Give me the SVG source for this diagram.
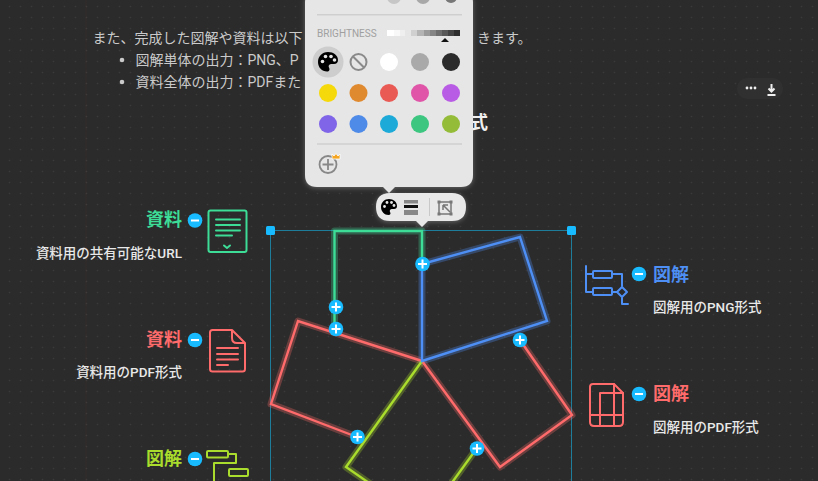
<svg xmlns="http://www.w3.org/2000/svg" width="818" height="481" viewBox="0 0 818 481">
<style>
text{font-family:Roboto,"Noto Sans CJK JP","Noto Sans",sans-serif}
.body{font-size:14px;fill:#cacaca}
.title{font-size:18px;font-weight:700}
.desc{font-size:13.500px;font-weight:500;fill:#e8e8e8}
.ic{fill:none;stroke-width:2;stroke-linejoin:round;stroke-linecap:round}
.glow{fill:none;stroke-width:7;opacity:.3;stroke-linejoin:round}
.ln{fill:none;stroke-width:2.400;stroke-linejoin:miter}
.plusb{fill:#18bbff}
.pl{stroke:#fff;stroke-width:2;fill:none}
.div{stroke:#cfcfcf;stroke-width:1.500;fill:none}
</style>
<defs>
<pattern id="dots" width="11" height="11" patternUnits="userSpaceOnUse" x="4" y="1"><circle cx="5.500" cy="5.500" r="0.800" fill="#3a3a3a"/></pattern>
<filter id="sh" x="-20%" y="-20%" width="140%" height="140%"><feDropShadow dx="0" dy="1" stdDeviation="2.500" flood-color="#fff" flood-opacity=".28"/></filter>
<g id="add"><circle r="7.300" class="plusb"/><path d="M-4.500 0H4.500M0-4.500V4.500" class="pl"/></g>
<g id="minus"><circle r="7.300" class="plusb"/><path d="M-4 0H4" class="pl"/></g>
</defs>
<rect width="818" height="481" fill="#2b2b2b"/>
<rect width="818" height="481" fill="url(#dots)"/>
<path d="M86 0V481" stroke="#ff4040" stroke-opacity=".06" fill="none"/>

<g id="document-text">
<text x="92.500" y="43" class="body">また、完成した図解や資料は以下</text>
<text x="477" y="43" class="body">きます。</text>
<circle cx="122" cy="60" r="2.300" fill="#cacaca"/>
<text x="135.500" y="65" class="body">図解単体の出力：PNG、P</text>
<circle cx="122" cy="82" r="2.300" fill="#cacaca"/>
<text x="135.500" y="87" class="body">資料全体の出力：PDFまた</text>
<text x="470" y="129" class="title" fill="#f0f0f0">式</text>
</g>

<g id="block-actions">
<rect x="737" y="78" width="46" height="21" rx="10" fill="#303030"/>
<circle cx="747" cy="88" r="1.400" fill="#eee"/><circle cx="751" cy="88" r="1.400" fill="#eee"/><circle cx="755" cy="88" r="1.400" fill="#eee"/>
<path d="M771.500 84V90M768.500 88.500L771.500 91.500L774.500 88.500M767.500 95H775.500" fill="none" stroke="#eee" stroke-width="2"/>
</g>

<rect id="selection" x="270.500" y="230.500" width="301" height="270" fill="none" stroke="#1f7d9c" stroke-width="1"/>

<g id="connectors">
<path class="glow" stroke="#3ddc97" d="M422 264V231H334.500V329"/>
<path class="glow" stroke="#ff6b6b" d="M357 437L271 404L298 321L422 361"/>
<path class="glow" stroke="#ff6b6b" d="M520 340L572 415L500 467L422 361"/>
<path class="glow" stroke="#a9dc2c" d="M422 361L346 467L372 485M477 448L443 495"/>
<path class="glow" stroke="#4e8ff5" d="M422 361V264L520 237L547 321Z"/>
<path class="ln" stroke="#3ddc97" d="M422 264V231H334.500V329"/>
<path class="ln" stroke="#ff6b6b" d="M357 437L271 404L298 321L422 361"/>
<path class="ln" stroke="#ff6b6b" d="M520 340L572 415L500 467L422 361"/>
<path class="ln" stroke="#a9dc2c" d="M422 361L346 467L372 485M477 448L443 495"/>
<path class="ln" stroke="#4e8ff5" d="M422 361V264L520 237L547 321Z"/>
</g>

<g id="handles">
<rect x="266" y="226" width="9" height="9" rx="1.500" fill="#18bbff"/>
<rect x="567" y="226" width="9" height="9" rx="1.500" fill="#18bbff"/>
<use href="#add" x="422.500" y="264"/>
<use href="#add" x="336" y="307"/>
<use href="#add" x="336" y="329"/>
<use href="#add" x="357.500" y="437"/>
<use href="#add" x="477" y="448.500"/>
<use href="#add" x="520" y="340"/>
</g>

<g id="node-url">
<text x="182" y="226" text-anchor="end" class="title" fill="#3ddc97">資料</text>
<use href="#minus" x="195" y="220.500"/>
<rect x="208.500" y="210.500" width="38" height="41.500" rx="2" class="ic" stroke="#3ddc97"/>
<path d="M216 219.500H240M216 225H240M216 230.500H240M216 235.500H232M224 245.500L227 248L230 245.500" class="ic" stroke="#3ddc97"/>
<text x="182" y="258" text-anchor="end" class="desc">資料用の共有可能なURL</text>
</g>

<g id="node-doc-pdf">
<text x="182" y="346" text-anchor="end" class="title" fill="#ff6b6b">資料</text>
<use href="#minus" x="195" y="340"/>
<path d="M212.500 330H232L245 343V369Q245 371.500 242.500 371.500H212.500Q210 371.500 210 369V332.500Q210 330 212.500 330ZM232 330V338Q232 343 237 343H245" class="ic" stroke="#ff6b6b"/>
<path d="M217 348H238M217 354H238M217 359.500H238M217 365H228" class="ic" stroke="#ff6b6b"/>
<text x="182" y="377" text-anchor="end" class="desc">資料用のPDF形式</text>
</g>

<g id="node-diagram-flow">
<text x="182" y="465" text-anchor="end" class="title" fill="#a9dc2c">図解</text>
<use href="#minus" x="195" y="459"/>
<rect x="207" y="451" width="21" height="6.500" rx="1" class="ic" stroke="#a9dc2c"/>
<path d="M228 454H236V463H214V481" class="ic" stroke="#a9dc2c"/>
<rect x="229" y="469" width="19" height="7" rx="1" class="ic" stroke="#a9dc2c"/>
</g>

<g id="node-png">
<path d="M586 266V292H593M586 274H593M612 274H622V286M612 292H617M622 298V304H628" class="ic" stroke="#4e8ff5"/>
<rect x="593" y="271" width="19" height="7" rx="1" class="ic" stroke="#4e8ff5"/>
<rect x="593" y="288" width="19" height="7" rx="1" class="ic" stroke="#4e8ff5"/>
<path d="M622 287L627 292L622 297L617 292Z" class="ic" stroke="#4e8ff5"/>
<use href="#minus" x="639" y="274"/>
<text x="653" y="281" class="title" fill="#4e8ff5">図解</text>
<text x="653" y="312" class="desc">図解用のPNG形式</text>
</g>

<g id="node-diagram-pdf">
<path d="M593 384H614L623 393V422Q623 426 619 426H594Q590 426 590 422V387Q590 384 593 384Z" class="ic" stroke="#ff6b6b"/>
<path d="M600 426V393H623M614 384V426M590 415H623" class="ic" stroke="#ff6b6b"/>
<use href="#minus" x="639" y="394"/>
<text x="653" y="400" class="title" fill="#ff6b6b">図解</text>
<text x="653" y="432" class="desc">図解用のPDF形式</text>
</g>

<g id="color-popup">
<path d="M317-10H461Q473-10 473 2V175Q473 187 461 187H395L389 193L383 187H317Q305 187 305 175V2Q305-10 317-10Z" fill="#e6e6e6" filter="url(#sh)"/>
<circle cx="394" cy="-3" r="7" fill="#c6c6c6"/><circle cx="423" cy="-3" r="7" fill="#a8a8a8"/><circle cx="451" cy="-3" r="6" fill="#777"/>
<path class="div" d="M317 14.700H462M317 144H462"/>
<text x="317" y="37" font-size="10" fill="#a0a0a0">BRIGHTNESS</text>
<g id="brightness">
<rect x="387" y="30" width="7" height="6" fill="#fff"/><rect x="394" y="30" width="6" height="6" fill="#f8f8f8"/><rect x="400" y="30" width="5" height="6" fill="#efefef"/>
<rect x="411" y="30" width="6" height="6" fill="#d0d0d0"/><rect x="417" y="30" width="7" height="6" fill="#b4b4b4"/><rect x="424" y="30" width="6" height="6" fill="#9a9a9a"/>
<rect x="430" y="30" width="6" height="6" fill="#858585"/><rect x="436" y="30" width="6" height="6" fill="#6e6e6e"/><rect x="442" y="30" width="6" height="6" fill="#595959"/>
<rect x="448" y="30" width="6" height="6" fill="#444"/><rect x="454" y="30" width="6" height="6" fill="#2e2e2e"/>
<path d="M445 38L449 42H441Z" fill="#111"/>
</g>
<circle cx="328" cy="62" r="15.500" fill="#cdcdcd"/>
<path d="M328 52C322 52 318 56.500 318 62C318 67.500 322 71.500 327 71.500C329.500 71.500 330 69.500 329 67.500C328 65.500 329.500 64 332 64H334C336.500 64 338 62.500 338 60C338 55.500 333.500 52 328 52Z" fill="#000"/>
<circle cx="322.500" cy="61.500" r="1.800" fill="#e6e6e6"/><circle cx="325.500" cy="56.500" r="1.800" fill="#e6e6e6"/><circle cx="331" cy="56.500" r="1.800" fill="#e6e6e6"/><circle cx="334.500" cy="60" r="1.800" fill="#e6e6e6"/>
<circle cx="358.500" cy="62" r="8" fill="none" stroke="#8a8a8a" stroke-width="2"/><path d="M353 56.500L364 67.500" stroke="#8a8a8a" stroke-width="2" fill="none"/>
<circle cx="389" cy="62" r="9" fill="#fff"/><circle cx="420" cy="62" r="9" fill="#a9a9a9"/><circle cx="451" cy="62" r="9" fill="#2b2b2b"/>
<circle cx="328" cy="93" r="9" fill="#f5d90a"/><circle cx="358.500" cy="93" r="9" fill="#e08a30"/><circle cx="389" cy="93" r="9" fill="#e95a55"/><circle cx="420" cy="93" r="9" fill="#e055a8"/><circle cx="451" cy="93" r="9" fill="#b95ce5"/>
<circle cx="328" cy="124" r="9" fill="#8065e8"/><circle cx="358.500" cy="124" r="9" fill="#4e8ae8"/><circle cx="389" cy="124" r="9" fill="#1daad8"/><circle cx="420" cy="124" r="9" fill="#3cc680"/><circle cx="451" cy="124" r="9" fill="#94bc38"/>
<circle cx="328" cy="164.500" r="8.500" fill="none" stroke="#888" stroke-width="1.800"/><path d="M322.500 164.500H333.500M328 159V170" stroke="#888" stroke-width="1.800" fill="none"/>
<path d="M332 159V154L334 156L336 153.500L338 156L340 154V159Z" fill="#f5a623" stroke="#fff" stroke-width=".8"/>
</g>

<g id="toolbar">
<path d="M390 193H452Q466 193 466 207Q466 221 452 221H428L422 227L416 221H390Q376 221 376 207Q376 193 390 193Z" fill="#e8e8e8" filter="url(#sh)"/>
<path d="M389 199C384.500 199 381 202.500 381 207C381 211.500 384.500 215 388.500 215C390.500 215 391 213.500 390 212C389.200 210.500 390.300 209 392 209H394C396 209 397 208 397 206C397 202 393.500 199 389 199Z" fill="#000"/>
<circle cx="384.500" cy="206.500" r="1.400" fill="#e8e8e8"/><circle cx="387" cy="202.500" r="1.400" fill="#e8e8e8"/><circle cx="391.500" cy="202.500" r="1.400" fill="#e8e8e8"/><circle cx="394" cy="205.500" r="1.400" fill="#e8e8e8"/>
<rect x="404" y="200" width="14" height="3.500" fill="#888"/><rect x="404" y="205" width="14" height="3" fill="#111"/><rect x="404" y="210" width="14" height="5" fill="#888"/>
<path d="M429.500 198V216" stroke="#c8c8c8" fill="none"/>
<path d="M439 202H451M451 202V214M451 214H439M439 214V202" fill="none" stroke="#777" stroke-width="1.500"/>
<rect x="437.500" y="200.500" width="3" height="3" fill="#777"/><rect x="449.500" y="200.500" width="3" height="3" fill="#777"/><rect x="437.500" y="212.500" width="3" height="3" fill="#777"/><rect x="449.500" y="212.500" width="3" height="3" fill="#777"/>
<path d="M443 205H448M443 205V210M443 205L450 212" fill="none" stroke="#777" stroke-width="1.500"/>
</g>
</svg>
